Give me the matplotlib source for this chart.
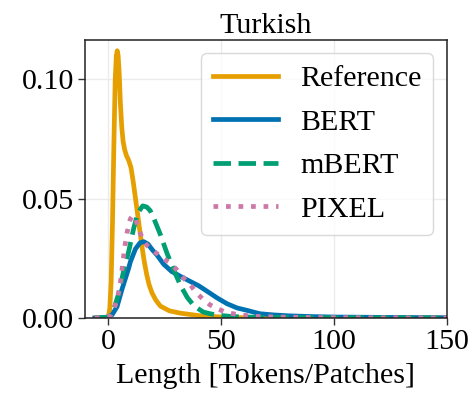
import matplotlib
matplotlib.use("Agg")
import matplotlib.pyplot as plt

# Length density curves (x = length in tokens/patches, y = density)
ref_x = [-6, -1, 0, 0.6, 1.2, 1.8, 2.4, 3.0, 3.5, 3.9, 4.3, 4.8, 5.3, 5.9, 6.5,
         7.2, 8, 9, 10, 11, 12, 13, 14, 15, 16, 17, 18, 19.3, 21, 23, 27, 32,
         40, 50, 60, 80, 150]
ref_y = [0, 0, 0.0005, 0.004, 0.015, 0.04, 0.072, 0.100, 0.110, 0.112, 0.110,
         0.102, 0.090, 0.080, 0.074, 0.0705, 0.068, 0.066, 0.063, 0.057, 0.050,
         0.043, 0.036, 0.029, 0.023, 0.018, 0.014, 0.0105, 0.0075, 0.005,
         0.003, 0.002, 0.001, 0.0004, 0.0001, 0, 0]

bert_x = [-6, -2, 0, 1.6, 3.8, 6, 9, 9.7, 12, 14, 15.6, 17.5, 19.5, 21.5, 24.5,
          28, 32, 36.3, 40, 45, 48, 52.5, 57, 61.4, 67, 73, 80, 90, 100, 115,
          130, 150]
bert_y = [0, 0.0001, 0.0004, 0.0013, 0.0047, 0.012, 0.021, 0.0235, 0.029,
          0.0315, 0.032, 0.031, 0.0285, 0.0264, 0.0225, 0.0195, 0.0174, 0.0153,
          0.0135, 0.0104, 0.0085, 0.006, 0.0042, 0.0032, 0.0018, 0.0013,
          0.0009, 0.0006, 0.0004, 0.0003, 0.0002, 0.0001]

mbert_x = [-6, 0, 1, 2.3, 4.6, 6.8, 9, 11.2, 13, 15.2, 17, 18.5, 20, 23, 26, 29,
           32, 35, 38, 42, 45, 48, 55, 65, 80, 100, 150]
mbert_y = [0, 0.0004, 0.0012, 0.0034, 0.0104, 0.020, 0.028, 0.0376, 0.044,
           0.047, 0.0465, 0.045, 0.042, 0.035, 0.027, 0.020, 0.0135, 0.0085,
           0.005, 0.0025, 0.0018, 0.0012, 0.0006, 0.0003, 0.0002, 0.0001, 0]

pixel_x = [-6, 0, 1, 2.3, 4, 5.3, 6.5, 7.1, 8.3, 9.7, 10.8, 12, 13.5, 15, 17, 19,
           21.5, 24, 26.7, 29, 31, 33.5, 36.3, 39, 42.2, 45, 48, 51, 54, 58, 65,
           75, 90, 110, 130, 150]
pixel_y = [0, 0.0005, 0.0012, 0.0034, 0.008, 0.015, 0.024, 0.029, 0.036,
           0.0415, 0.043, 0.0415, 0.037, 0.0335, 0.0305, 0.0288, 0.027, 0.025,
           0.0235, 0.0215, 0.0195, 0.0165, 0.0139, 0.0105, 0.0076, 0.0055,
           0.004, 0.0028, 0.002, 0.0013, 0.0007, 0.0004, 0.0002, 0.0001,
           0.00005, 0]

labels = ["Reference", "BERT", "mBERT", "PIXEL"]
x_ticks = [0, 50, 100, 150]
y_ticks = [0.00, 0.05, 0.10]
y_tick_labels = ["0.00", "0.05", "0.10"]

plt.rcParams["font.family"] = ["Liberation Serif", "DejaVu Serif"]

fig = plt.figure(figsize=(4.72, 3.96), dpi=100)
ax = fig.add_axes([0.180, 0.197, 0.767, 0.702])

lw = 3.4
ax.plot(ref_x, ref_y, color="#e69f00", lw=lw, label=labels[0])
ax.plot(bert_x, bert_y, color="#0072b2", lw=lw, label=labels[1])
ax.plot(mbert_x, mbert_y, color="#009e73", lw=lw, ls="--", label=labels[2])
ax.plot(pixel_x, pixel_y, color="#cc79a7", lw=lw, ls=":", label=labels[3])

ax.set_xlim(-10.4, 150)
ax.set_ylim(0, 0.1165)
ax.set_xticks(x_ticks)
ax.set_yticks(y_ticks)
ax.set_yticklabels(y_tick_labels)

fs = 21.6
ax.tick_params(labelsize=fs, length=5, width=1, color="#333333", pad=3)
ax.set_xlabel("Length [Tokens/Patches]", fontsize=fs, labelpad=6)
ax.set_title("Turkish", fontsize=fs, pad=5)

ax.grid(True, color="#ebebeb", lw=1)
ax.set_axisbelow(True)
for s in ax.spines.values():
    s.set_color("#222222")
    s.set_linewidth(1.1)

leg = ax.legend(loc="upper right", fontsize=fs, handlelength=2.15,
                frameon=True, fancybox=True, labelspacing=0.55,
                borderpad=0.4, handletextpad=0.75, borderaxespad=0.45)
leg.get_frame().set_edgecolor("#d0d0d0")
leg.get_frame().set_linewidth(1.0)

fig.savefig("out.png", dpi=100)
